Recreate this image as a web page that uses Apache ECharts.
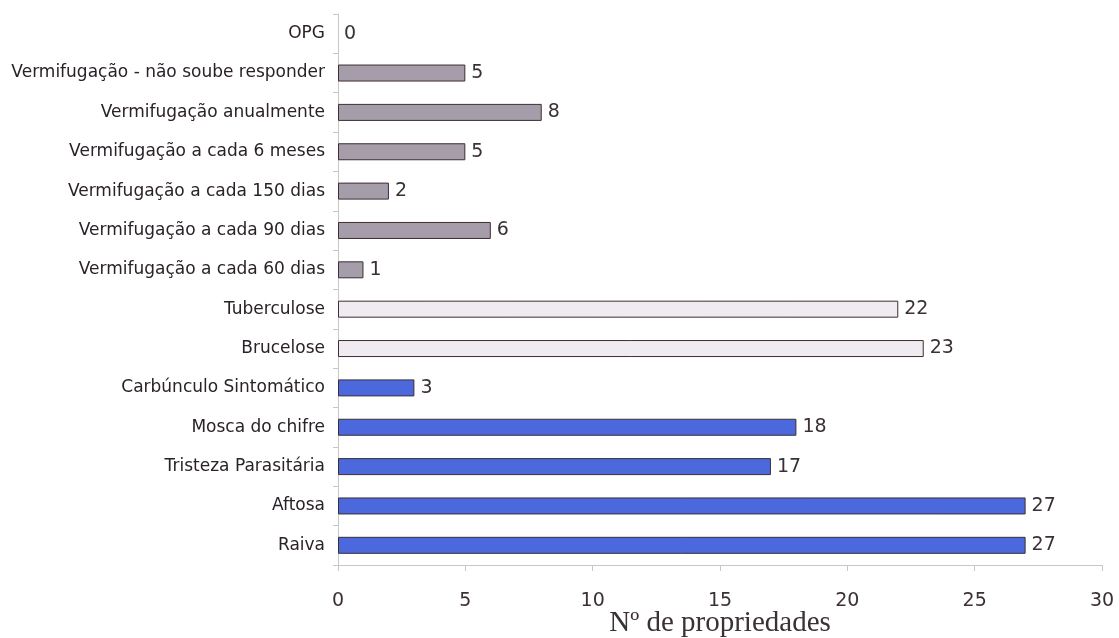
<!DOCTYPE html>
<html>
<head>
<meta charset="utf-8">
<script src="https://cdn.jsdelivr.net/npm/echarts@6/dist/echarts.min.js"></script>
<style>
  html, body { margin: 0; padding: 0; background: #fff; }
  #chart { width: 1119px; height: 638px; }
</style>
</head>
<body>
<div id="chart"></div>
<script>
// categorias de cima para baixo
var categories = [
  "OPG",
  "Vermifugação - não soube responder",
  "Vermifugação anualmente",
  "Vermifugação a cada 6 meses",
  "Vermifugação a cada 150 dias",
  "Vermifugação a cada 90 dias",
  "Vermifugação a cada 60 dias",
  "Tuberculose",
  "Brucelose",
  "Carbúnculo Sintomático",
  "Mosca do chifre",
  "Tristeza Parasitária",
  "Aftosa",
  "Raiva"
];
var values = [0, 5, 8, 5, 2, 6, 1, 22, 23, 3, 18, 17, 27, 27];
// grupo de cada barra: 0 = vermifugação, 1 = exames, 2 = vacinas
var groups = [0, 0, 0, 0, 0, 0, 0, 1, 1, 2, 2, 2, 2, 2];
var xTicks = [0, 5, 10, 15, 20, 25, 30];

var groupColors = ["#a59daa", "#efebf0", "#4b68dd"];

var chart = echarts.init(document.getElementById("chart"));
chart.setOption({
  animation: false,
  grid: { left: 338, right: 17, top: 14, bottom: 73, containLabel: false, outerBoundsMode: "none" },
  xAxis: {
    type: "value",
    min: xTicks[0],
    max: xTicks[xTicks.length - 1],
    interval: 5,
    name: "Nº de propriedades",
    nameLocation: "middle",
    nameGap: 44,
    nameMoveOverlap: false,
    nameTextStyle: { fontFamily: "Liberation Serif", fontSize: 29, color: "#3a3036" },
    axisLine: { show: true, lineStyle: { color: "#c8c8c8", width: 1 } },
    axisTick: { show: true, length: 6, lineStyle: { color: "#c8c8c8" } },
    axisLabel: { fontFamily: "DejaVu Sans", fontSize: 19, color: "#3a3036", margin: 27 },
    splitLine: { show: false }
  },
  yAxis: {
    type: "category",
    inverse: true,
    data: categories,
    axisLine: { show: true, lineStyle: { color: "#c8c8c8", width: 1 } },
    axisTick: { show: true, length: 5, lineStyle: { color: "#c8c8c8" } },
    axisLabel: { fontFamily: "DejaVu Sans", fontSize: 17, color: "#2a2228", margin: 13 }
  },
  series: [{
    type: "bar",
    barWidth: 17,
    data: values.map(function (v, i) {
      return {
        value: v,
        itemStyle: {
          color: groupColors[groups[i]],
          borderColor: "#3d2e34",
          borderWidth: v > 0 ? 1 : 0
        }
      };
    }),
    label: {
      show: true,
      position: "right",
      distance: 6,
      fontFamily: "DejaVu Sans",
      fontSize: 19,
      color: "#3a3036"
    }
  }]
});
</script>
</body>
</html>
